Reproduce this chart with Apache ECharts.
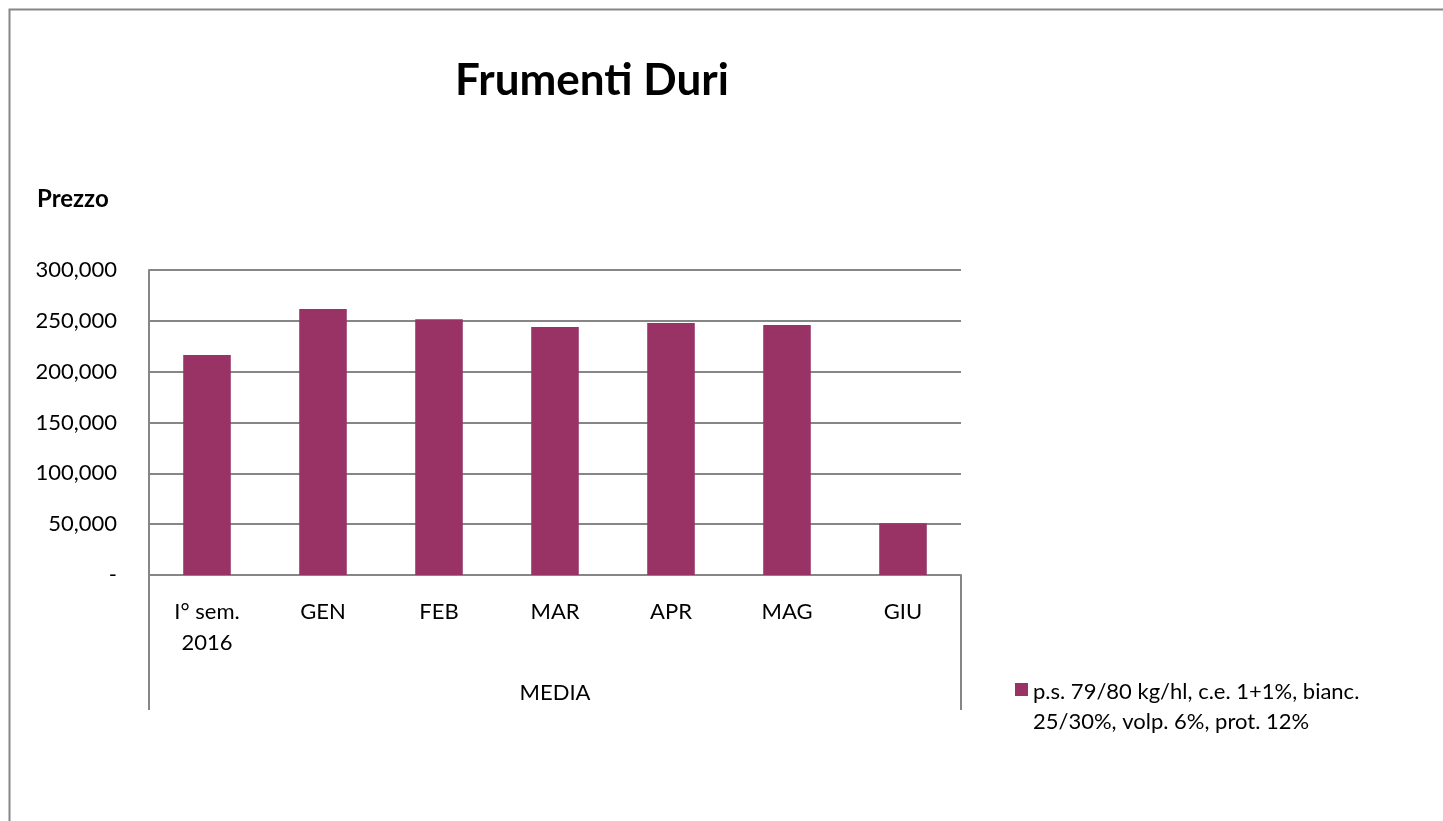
<!DOCTYPE html>
<html>
<head>
<meta charset="utf-8">
<script src="https://cdn.jsdelivr.net/npm/echarts@6/dist/echarts.min.js"></script>
<style>
  html, body { margin: 0; padding: 0; background: #fff; }
  #chart { width: 1443px; height: 821px; }
</style>
</head>
<body>
<div id="chart"></div>
<script>
const categories = ['I° sem.\n2016', 'GEN', 'FEB', 'MAR', 'APR', 'MAG', 'GIU']
const groupLabels = ['MEDIA']
const seriesName = 'p.s. 79/80 kg/hl, c.e. 1+1%, bianc. 25/30%, volp. 6%, prot. 12%'
const prices = [216.4, 261.6, 251.5, 244.0, 247.9, 245.9, 50.9]

const font = 'Lato, "Open Sans", sans-serif'
const axisGray = '#868686'

const chart = echarts.init(document.getElementById('chart'))

chart.setOption({
  backgroundColor: '#fff',
  animation: false,
  title: [{
    text: 'Frumenti Duri',
    left: 587,
    top: 54,
    textAlign: 'center',
    textStyle: { fontFamily: font, fontSize: 44, fontWeight: 'bold', color: '#000' }
  }, {
    text: 'Prezzo',
    left: 32,
    top: 182,
    textStyle: { fontFamily: font, fontSize: 24, fontWeight: 'bold', color: '#000' }
  }],
  graphic: [{
    type: 'rect',
    shape: { x: 9.5, y: 9.5, width: 1600, height: 1000 },
    style: { fill: null, stroke: axisGray, lineWidth: 2 },
    silent: true
  }],
  legend: {
    left: 1010,
    top: 672,
    orient: 'vertical',
    itemWidth: 13,
    itemHeight: 60,
    // square sits next to the first text line, like the Excel legend
    icon: 'path://M0,0h0.05v0.05h-0.05z M0,6h13v13h-13z M0,60h0.05v0.05h-0.05z',
    formatter: name => name.replace('bianc. ', 'bianc.\n'),
    textStyle: { fontFamily: font, fontSize: 22, color: '#000', lineHeight: 30 }
  },
  grid: { left: 149, right: 482, top: 270, bottom: 246 },
  xAxis: [{
    type: 'category',
    data: categories,
    axisLine: { lineStyle: { color: axisGray, width: 2 } },
    axisTick: { show: false },
    axisLabel: {
      interval: 0,
      margin: 21,
      fontFamily: font,
      fontSize: 22,
      lineHeight: 31,
      color: '#000'
    }
  }, {
    type: 'category',
    data: groupLabels,
    position: 'bottom',
    axisLine: { show: false },
    axisTick: { show: true, length: 135, lineStyle: { color: axisGray, width: 2 } },
    axisLabel: { margin: 107, fontFamily: font, fontSize: 22, color: '#000' }
  }],
  yAxis: {
    type: 'value',
    min: 0,
    max: 300,
    interval: 50,
    axisLine: { show: true, lineStyle: { color: axisGray, width: 2 } },
    axisTick: { show: false },
    splitLine: { lineStyle: { color: axisGray, width: 2 } },
    axisLabel: {
      margin: 32,
      fontFamily: font,
      fontSize: 22,
      color: '#000',
      formatter: v => v === 0 ? '-' : v.toFixed(3).replace('.', ',')
    }
  },
  series: [{
    name: seriesName,
    type: 'bar',
    data: prices,
    barWidth: '41%',
    itemStyle: { color: '#993366' }
  }]
})
</script>
</body>
</html>
